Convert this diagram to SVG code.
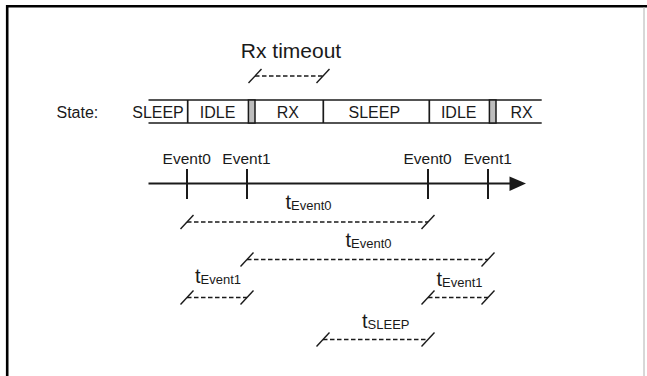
<svg xmlns="http://www.w3.org/2000/svg" width="647" height="376" viewBox="0 0 647 376">
<style>
text{font-family:"Liberation Sans",Arial,sans-serif;fill:#1a1a1a}
.st{font-size:16px;text-anchor:middle}
.ev{font-size:15.5px;text-anchor:middle}
.t{font-size:20px}
.sub{font-size:13px}
.bar{stroke:#1a1a1a;stroke-width:1.7;fill:none}
.dim{stroke:#1a1a1a;stroke-width:1.4;stroke-dasharray:4.5 2.5;fill:none}
.sl{stroke:#1a1a1a;stroke-width:1.4;fill:none}
.tick{stroke:#1a1a1a;stroke-width:2;fill:none}
.gray{fill:#bdbdbd;stroke:#1a1a1a;stroke-width:1.5}
</style>
<rect width="647" height="376" fill="#fff"/>
<g id="frame">
<path d="M7.2,376 V6.2 H647" fill="none" stroke="#000" stroke-width="2.6"/>
<line x1="644" y1="7" x2="644" y2="376" stroke="#b0b0b0" stroke-width="1"/>
</g>
<g id="title">
<text x="291" y="58.3" style="font-size:21px;text-anchor:middle">Rx timeout</text>
</g>
<g id="state-label"><text x="56.5" y="118">State:</text></g>
<g id="state-bar">
<line class="bar" x1="148.5" y1="100" x2="541.7" y2="100"/>
<line class="bar" x1="148.5" y1="123" x2="541.7" y2="123"/>
<line class="bar" x1="187.7" y1="100" x2="187.7" y2="123"/>
<rect class="gray" x="248.4" y="100" width="6.6" height="23"/>
<line class="bar" x1="323.3" y1="100" x2="323.3" y2="123"/>
<line class="bar" x1="429.3" y1="100" x2="429.3" y2="123"/>
<rect class="gray" x="489.4" y="100" width="6.6" height="23"/>
</g>
<g id="s-sleep1"><text class="st" x="158" y="117.8">SLEEP</text></g>
<g id="s-idle1"><text class="st" x="217.6" y="117.8">IDLE</text></g>
<g id="s-rx1"><text class="st" x="287.8" y="117.8">RX</text></g>
<g id="s-sleep2"><text class="st" x="374.3" y="117.8">SLEEP</text></g>
<g id="s-idle2"><text class="st" x="458.7" y="117.8">IDLE</text></g>
<g id="s-rx2"><text class="st" x="521.5" y="117.8">RX</text></g>
<g id="axis">
<line x1="148.5" y1="183.5" x2="512" y2="183.5" stroke="#1a1a1a" stroke-width="2"/>
<polygon points="509.5,176.5 526,183.5 509.5,191" fill="#1a1a1a"/>
</g>
<g id="ev0a"><line class="tick" x1="187" y1="169" x2="187" y2="199"/><text class="ev" x="186.7" y="164">Event0</text></g>
<g id="ev1a"><line class="tick" x1="247" y1="169" x2="247" y2="199"/><text class="ev" x="246.5" y="164">Event1</text></g>
<g id="ev0b"><line class="tick" x1="428" y1="169" x2="428" y2="199"/><text class="ev" x="427.6" y="164">Event0</text></g>
<g id="ev1b"><line class="tick" x1="488" y1="169" x2="488" y2="199"/><text class="ev" x="487.8" y="164">Event1</text></g>
<g id="connectors">
<g id="dim-rx">
<line class="dim" x1="255" y1="76" x2="323" y2="76"/>
<line class="sl" x1="248.5" y1="83" x2="261.5" y2="69"/>
<line class="sl" x1="316.5" y1="83" x2="329.5" y2="69"/>
</g>
<g id="dim-event0a">
<line class="dim" x1="187" y1="222" x2="428" y2="222"/>
<line class="sl" x1="180.5" y1="229" x2="193.5" y2="215"/>
<line class="sl" x1="421.5" y1="229" x2="434.5" y2="215"/>
</g>
<g id="dim-event0b">
<line class="dim" x1="247" y1="259.5" x2="488" y2="259.5"/>
<line class="sl" x1="240.5" y1="266.5" x2="253.5" y2="252.5"/>
<line class="sl" x1="481.5" y1="266.5" x2="494.5" y2="252.5"/>
</g>
<g id="dim-event1a">
<line class="dim" x1="187" y1="297.5" x2="247" y2="297.5"/>
<line class="sl" x1="180.5" y1="304.5" x2="193.5" y2="290.5"/>
<line class="sl" x1="240.5" y1="304.5" x2="253.5" y2="290.5"/>
</g>
<g id="dim-event1b">
<line class="dim" x1="428" y1="297.5" x2="488" y2="297.5"/>
<line class="sl" x1="421.5" y1="304.5" x2="434.5" y2="290.5"/>
<line class="sl" x1="481.5" y1="304.5" x2="494.5" y2="290.5"/>
</g>
<g id="dim-sleep">
<line class="dim" x1="323" y1="339.5" x2="428" y2="339.5"/>
<line class="sl" x1="316.5" y1="346.5" x2="329.5" y2="332.5"/>
<line class="sl" x1="421.5" y1="346.5" x2="434.5" y2="332.5"/>
</g>
</g>
<g id="lbl-event0a"><text class="t" x="285.5" y="208.5">t<tspan class="sub" dy="1">Event0</tspan></text></g>
<g id="lbl-event0b"><text class="t" x="345.5" y="247">t<tspan class="sub" dy="1">Event0</tspan></text></g>
<g id="lbl-event1a"><text class="t" x="195" y="282.5">t<tspan class="sub" dy="1">Event1</tspan></text></g>
<g id="lbl-event1b"><text class="t" x="436.5" y="285.5">t<tspan class="sub" dy="1">Event1</tspan></text></g>
<g id="lbl-sleep"><text class="t" x="362" y="328">t<tspan class="sub" dy="1">SLEEP</tspan></text></g>
</svg>
